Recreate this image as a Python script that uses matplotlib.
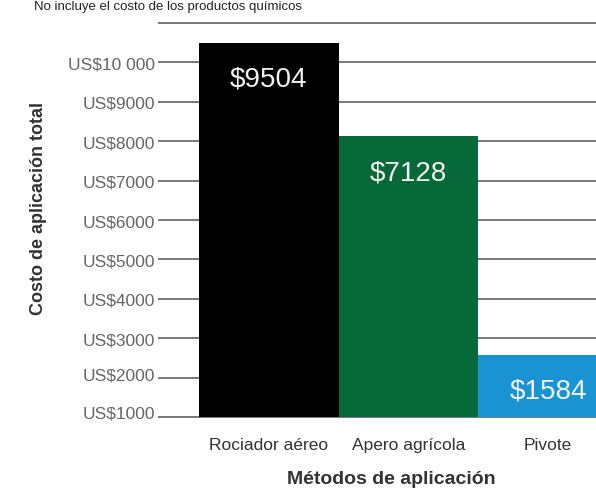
import numpy as np
import matplotlib
matplotlib.use('Agg')
import matplotlib.pyplot as plt
import matplotlib.transforms as mtransforms

plt.rcParams['font.family'] = ['Liberation Sans', 'DejaVu Sans']

# datos
metodos = ['Rociador aéreo', 'Apero agrícola', 'Pivote']
costos = [9504, 7128, 1584]
etiquetas_valor = ['$9504', '$7128', '$1584']
colores = ['#000000', '#07693a', '#1a93d2']
etiquetas_y = ['US$1000', 'US$2000', 'US$3000', 'US$4000', 'US$5000',
               'US$6000', 'US$7000', 'US$8000', 'US$9000', 'US$10 000', '']
nota = 'No incluye el costo de los productos químicos'

fig = plt.figure(figsize=(5.96, 4.89), dpi=100)
ax = fig.add_axes([0.3339, 0.1403, 0.6661, 0.8227])

x = np.arange(len(metodos))
barras = ax.bar(x, costos, width=1.0, color=colores, zorder=3)

# etiquetas de valor dentro de las barras
for b, txt in zip(barras, etiquetas_valor):
    ax.annotate(txt, (b.get_x() + b.get_width() / 2, b.get_height()),
                xytext=(0, -26), textcoords='offset points',
                ha='center', va='center', color='#f2f2f2', fontsize=20,
                zorder=4)

ax.set_xlim(-0.5, 2.343)
ax.set_ylim(-60, 10150)

# eje y: las lineas van cada 1000 con la etiqueta desplazada una linea
ax.set_yticks(np.arange(len(etiquetas_y)) * 1000)
ax.set_yticklabels(etiquetas_y)
ax.yaxis.grid(True, color='#555555', linewidth=1.1)
ax.set_axisbelow(True)
ax.tick_params(axis='y', length=29.5, width=1.1, color='#555555', pad=2,
               labelcolor='#666666', labelsize=12.5)

# las dos primeras etiquetas quedan un poco por encima de su linea
for i, dy in [(0, 6), (1, 4)]:
    lab = ax.yaxis.get_major_ticks()[i].label1
    lab.set_transform(lab.get_transform() +
                      mtransforms.ScaledTranslation(0, dy / 100, fig.dpi_scale_trans))

ax.set_xticks(x)
ax.set_xticklabels(metodos)
ax.tick_params(axis='x', length=0, pad=13, labelcolor='#333333', labelsize=12.5)

for s in ax.spines.values():
    s.set_visible(False)

ax.set_xlabel('Métodos de aplicación', fontsize=14, fontweight='bold',
              color='#333333', va='center')
ax.xaxis.set_label_coords(0.4836, -0.1457)
ax.set_ylabel('Costo de aplicación total', fontsize=13, fontweight='bold',
              color='#333333', va='center')
ax.yaxis.set_label_coords(-0.4055, 0.5255)

# nota superior
fig.text(34 / 596, 1 - 1 / 489, nota, fontsize=9.5, color='#222222',
         ha='left', va='top')

fig.savefig('out.png', dpi=100)
